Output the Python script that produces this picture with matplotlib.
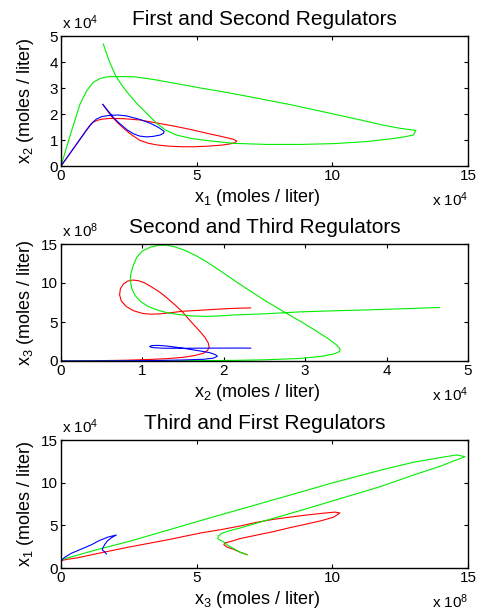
import matplotlib
matplotlib.use('Agg')
import matplotlib.pyplot as plt

plt.rcParams['font.family'] = ['Liberation Sans', 'DejaVu Sans']
plt.rcParams['mathtext.fontset'] = 'custom'
plt.rcParams['mathtext.rm'] = 'Liberation Sans'
plt.rcParams['mathtext.it'] = 'Liberation Sans'
plt.rcParams['mathtext.bf'] = 'Liberation Sans:bold'

# --- panel 1: x1 (x 1e4) vs x2 (x 1e4)
p1_red_x = [0, 0.6, 0.9, 1.07, 1.2, 1.35, 1.5, 1.81, 2.3, 2.91, 3.5, 4.14, 4.8, 5.37, 5.9, 6.35,
            6.48, 6.42, 6.23, 5.9, 5.37, 4.9, 4.51, 4.0, 3.53, 3.2, 2.9, 2.6, 2.35, 2.1, 1.85, 1.54]
p1_red_y = [0, 0.88, 1.33, 1.57, 1.69, 1.76, 1.80, 1.83, 1.82, 1.77, 1.66, 1.54, 1.40, 1.26, 1.14, 1.03,
            0.96, 0.90, 0.85, 0.80, 0.76, 0.74, 0.74, 0.76, 0.81, 0.88, 0.99, 1.2, 1.41, 1.65, 1.92, 2.37]
p1_green_x = [0, 0.35, 0.70, 0.95, 1.19, 1.45, 1.68, 2.2, 2.7, 3.4, 4.2, 5.14, 6.0, 6.97, 8.5, 10.04,
              11.0, 11.88, 12.49, 12.85, 13.08, 12.98, 12.7, 12.2, 11.27, 10.04, 8.82, 7.59, 6.37,
              5.37, 4.8, 4.26, 3.85, 3.53, 3.2, 2.79, 2.42, 2.2, 2.0, 1.76, 1.56]
p1_green_y = [0, 1.22, 2.38, 2.9, 3.22, 3.37, 3.43, 3.44, 3.43, 3.33, 3.18, 3.0, 2.85, 2.66, 2.35, 2.0,
              1.78, 1.57, 1.45, 1.40, 1.37, 1.19, 1.13, 1.05, 0.94, 0.86, 0.83, 0.83, 0.87,
              0.98, 1.06, 1.19, 1.38, 1.64, 1.98, 2.41, 2.86, 3.17, 3.5, 4.08, 4.69]
p1_blue_x = [0, 0.6, 0.9, 1.13, 1.3, 1.5, 1.81, 2.1, 2.4, 2.91, 3.3, 3.6, 3.80, 3.78, 3.65, 3.4, 3.16,
             2.9, 2.67, 2.45, 2.30, 2.1, 1.93, 1.75, 1.54]
p1_blue_y = [0, 0.88, 1.32, 1.64, 1.80, 1.90, 1.95, 1.96, 1.93, 1.79, 1.64, 1.48, 1.33, 1.26, 1.19, 1.14,
             1.12, 1.15, 1.24, 1.38, 1.51, 1.69, 1.87, 2.1, 2.37]

# --- panel 2: x2 (x 1e4) vs x3 (x 1e8)
p2_red_x = [2.33, 2.12, 1.92, 1.70, 1.50, 1.35, 1.22, 1.10, 1.0, 0.89, 0.80, 0.74, 0.72, 0.73, 0.77,
            0.82, 0.88, 0.95, 1.03, 1.12, 1.21, 1.30, 1.40, 1.50, 1.60, 1.71, 1.77, 1.81, 1.82, 1.80,
            1.75, 1.65, 1.50, 1.30, 1.09, 0.8, 0.5, 0]
p2_red_y = [6.81, 6.75, 6.64, 6.5, 6.38, 6.2, 6.05, 6.0, 6.1, 6.45, 7.0, 7.7, 8.5, 9.3, 9.9,
            10.25, 10.38, 10.3, 10.0, 9.45, 8.85, 8.1, 7.2, 6.2, 5.0, 3.76, 3.0, 2.3, 1.75, 1.35,
            1.0, 0.72, 0.47, 0.3, 0.2, 0.1, 0.05, 0]
p2_green_x = [4.65, 4.2, 3.76, 3.3, 2.94, 2.5, 2.12, 1.95, 1.79, 1.6, 1.45, 1.30, 1.18, 1.07, 0.98,
              0.91, 0.87, 0.85, 0.86, 0.89, 0.93, 1.0, 1.1, 1.20, 1.30, 1.39, 1.52, 1.66, 1.79, 1.98,
              2.16, 2.35, 2.53, 2.74, 2.94, 3.12, 3.27, 3.38, 3.43, 3.42, 3.35, 3.2, 2.94, 2.5,
              2.12, 1.6, 1.31, 0.8, 0]
p2_green_y = [6.86, 6.7, 6.55, 6.42, 6.3, 6.05, 5.9, 5.78, 5.72, 5.78, 5.95, 6.2, 6.55, 7.0, 7.6,
              8.4, 9.3, 10.38, 11.3, 12.3, 13.3, 14.1, 14.6, 14.85, 14.85, 14.65, 14.2, 13.5, 12.7, 11.4,
              10.1, 8.8, 7.6, 6.3, 5.1, 3.95, 2.95, 2.1, 1.55, 1.2, 0.9, 0.6, 0.33, 0.15,
              0.08, 0.04, 0.02, 0.01, 0]
p2_blue_x = [2.33, 2.20, 1.80, 1.50, 1.25, 1.15, 1.10, 1.09, 1.12, 1.20, 1.30, 1.45, 1.58, 1.72, 1.83,
             1.90, 1.92, 1.87, 1.75, 1.50, 1.2, 0.8, 0]
p2_blue_y = [1.65, 1.66, 1.65, 1.63, 1.64, 1.70, 1.78, 1.88, 1.98, 2.0, 1.92, 1.72, 1.50, 1.27, 1.06,
             0.8, 0.6, 0.36, 0.22, 0.13, 0.07, 0.03, 0]

# --- panel 3: x3 (x 1e8) vs x1 (x 1e4)
p3_red_x = [6.86, 6.6, 6.37, 6.12, 6.0, 6.05, 6.25, 6.6, 7.2, 7.83, 8.4, 9.06, 9.6, 10.04, 10.28,
            10.1, 9.6, 9.06, 8.4, 7.83, 7.2, 6.6, 5.9, 5.14, 4.0, 2.47, 1.5, 0.63, 0.2, 0.01, 0]
p3_red_y = [1.56, 1.85, 2.18, 2.45, 2.75, 2.95, 3.1, 3.45, 3.85, 4.26, 4.7, 5.16, 5.55, 5.95, 6.45,
            6.55, 6.4, 6.21, 5.95, 5.70, 5.35, 4.92, 4.5, 4.1, 3.35, 2.43, 1.8, 1.21, 1.0, 0.86, 0]
p3_green_x = [6.86, 6.6, 6.37, 6.15, 6.0, 5.85, 5.78, 5.80, 5.95, 6.3, 6.6, 7.2, 7.95, 9.0, 10.04,
              11.0, 11.76, 13.0, 14.0, 14.40, 14.7, 14.89, 14.58, 14.0, 13.0, 11.76, 10.04, 7.95,
              5.14, 2.47, 1.2, 0.63, 0.2, 0.01, 0]
p3_green_y = [1.56, 1.85, 2.26, 2.65, 3.04, 3.3, 3.45, 3.75, 4.1, 4.45, 4.68, 5.25, 5.93, 6.9, 7.9,
              8.8, 9.53, 10.9, 11.95, 12.46, 12.8, 13.05, 13.25, 12.95, 12.4, 11.45, 10.0, 8.1,
              5.55, 3.08, 2.05, 1.52, 1.15, 0.9, 0]
p3_blue_x = [1.67, 1.61, 1.54, 1.52, 1.56, 1.62, 1.72, 1.86, 2.04, 1.73, 1.40, 1.12, 0.75, 0.38, 0.14,
             0.04, 0.01, 0]
p3_blue_y = [1.64, 1.90, 2.05, 2.19, 2.45, 2.80, 3.2, 3.55, 3.87, 3.62, 3.2, 2.72, 2.22, 1.72, 1.25,
             0.98, 0.74, 0]

titles = ['First and Second Regulators', 'Second and Third Regulators', 'Third and First Regulators']
xlabels = ['x$_1$ (moles / liter)', 'x$_2$ (moles / liter)', 'x$_3$ (moles / liter)']
ylabels = ['x$_2$ (moles / liter)', 'x$_3$ (moles / liter)', 'x$_1$ (moles / liter)']
x_exp = [4, 4, 8]
y_exp = [4, 8, 4]
x_max = [15, 5, 15]
y_max = [5, 15, 15]
x_ticks = [[0, 5, 10, 15], [0, 1, 2, 3, 4, 5], [0, 5, 10, 15]]
y_ticks = [[0, 1, 2, 3, 4, 5], [0, 5, 10, 15], [0, 5, 10, 15]]

series = [
    [(p1_red_x, p1_red_y), (p1_green_x, p1_green_y), (p1_blue_x, p1_blue_y)],
    [(p2_red_x, p2_red_y), (p2_green_x, p2_green_y), (p2_blue_x, p2_blue_y)],
    [(p3_red_x, p3_red_y), (p3_green_x, p3_green_y), (p3_blue_x, p3_blue_y)],
]
colors = ['#ff0000', '#00ee00', '#0000ff']

W, H = 478, 613
# axes boxes in pixels: left, top, right, bottom
boxes = [(61, 36, 468, 166), (61, 244, 468, 361), (61, 440, 468, 568)]

fig = plt.figure(figsize=(W / 100, H / 100), dpi=100)

for i in range(3):
    l, t, r, b = boxes[i]
    ax = fig.add_axes([l / W, 1 - b / H, (r - l) / W, (b - t) / H])
    for (xs, ys), c in zip(series[i], colors):
        ax.plot(xs, ys, color=c, lw=0.8)
    ax.set_xlim(0, x_max[i])
    ax.set_ylim(0, y_max[i])
    ax.set_xticks(x_ticks[i])
    ax.set_yticks(y_ticks[i])
    ax.tick_params(direction='in', top=True, right=True, length=3, width=0.8,
                   labelsize=11, pad=2)
    for s in ax.spines.values():
        s.set_linewidth(1.0)
    ax.set_title(titles[i], fontsize=15, pad=8)
    ax.set_xlabel(xlabels[i], fontsize=13)
    ax.xaxis.set_label_coords(0.482, -21 / (b - t))
    ax.xaxis.label.set_va('top')
    ax.set_ylabel(ylabels[i], fontsize=13)
    ax.yaxis.set_label_coords(-25 / (r - l), 0.5)
    ax.annotate('x 10$^{%d}$' % y_exp[i], xy=(0, 1), xycoords='axes fraction',
                xytext=(1, 4), textcoords='offset pixels', ha='left', va='bottom', fontsize=11)
    ax.annotate('x 10$^{%d}$' % x_exp[i], xy=(1, 0), xycoords='axes fraction',
                xytext=(0, -40), textcoords='offset pixels', ha='right', va='baseline', fontsize=11)

fig.savefig('out.png', dpi=100)
